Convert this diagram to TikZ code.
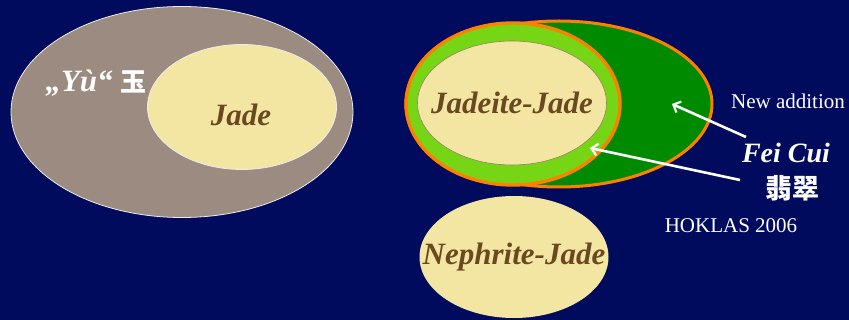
\documentclass[tikz,border=0pt]{standalone}
\usepackage{fontspec}
\setmainfont{Liberation Serif}
\newfontfamily\cjk{Noto Sans CJK SC}
\usetikzlibrary{shapes.geometric,arrows.meta}
\definecolor{bg}{RGB}{1,11,94}
\definecolor{taupe}{RGB}{155,139,128}
\definecolor{cream}{RGB}{243,230,163}
\definecolor{brownt}{RGB}{106,72,32}
\definecolor{dgreen}{RGB}{0,138,0}
\definecolor{lgreen}{RGB}{118,214,22}
\definecolor{orng}{RGB}{255,128,0}
\tikzset{
  ell/.style={ellipse, inner sep=0pt},
  lbl/.style={font=\bfseries\itshape\fontsize{31}{31}\selectfont, text=brownt},
  wtxt/.style={text=white},
  arr/.style={draw=white, line width=2.6pt, -{Straight Barb[length=6pt,width=12pt,line width=2.2pt]}},
}
\begin{document}
\begin{tikzpicture}[x=1pt,y=-1pt]
\fill[bg] (0,0) rectangle (849,320);
\useasboundingbox (0,0) rectangle (849,320);
% left group
\node[ell, draw=white!85!gray, line width=0.8pt, fill=taupe, minimum width=342pt, minimum height=211pt] (yu) at (182,112) {};
\node[ell, draw=white!85!gray, line width=0.8pt, fill=cream, minimum width=189pt, minimum height=125pt] (jade) at (242,107) {};
\node[lbl] (jadet) at (241,115) {Jade};
\node[wtxt, font=\bfseries\itshape\fontsize{31}{31}\selectfont, anchor=base west] (yut) at (42,92) {„Yù“ {\cjk\bfseries\fontsize{26}{26}\selectfont 玉}};
% right group
\node[ell, draw=orng, line width=3pt, fill=dgreen, minimum width=306pt, minimum height=166pt] (feicui) at (559,104) {};
\node[ell, draw=orng, line width=3.4pt, fill=lgreen, minimum width=214pt, minimum height=162pt] (lg) at (513,104) {};
\node[ell, draw=brownt!70, line width=0.6pt, fill=cream, minimum width=189pt, minimum height=124pt] (jadeite) at (512,103) {};
\node[lbl] (jadeitet) at (512,103) {Jadeite-Jade};
\node[ell, fill=cream, minimum width=189pt, minimum height=122pt] (nephrite) at (514,257) {};
\node[lbl] (nephritet) at (514,257) {Nephrite-Jade};
% labels
\node[wtxt, font=\fontsize{21}{21}\selectfont] (newadd) at (788,101) {New addition};
\node[wtxt, font=\bfseries\itshape\fontsize{28}{28}\selectfont] (fei) at (786,153) {Fei Cui};
\node[wtxt, font=\cjk\bfseries\fontsize{27}{27}\selectfont] (cjkfc) at (792,188) {翡翠};
\node[wtxt, font=\fontsize{21}{21}\selectfont] (hok) at (731,226) {HOKLAS 2006};
% arrows
\coordinate (s1) at (746,137);
\coordinate (e1) at (672,104);
\coordinate (s2) at (740,180);
\coordinate (e2) at (590,148);
\draw[arr] (s1) -- (e1);
\draw[arr] (s2) -- (e2);
\end{tikzpicture}
\end{document}
